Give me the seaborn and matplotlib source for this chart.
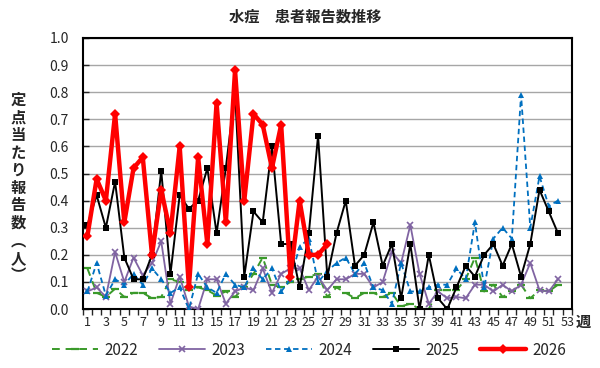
import numpy as np
import pandas as pd
import matplotlib
matplotlib.use("Agg")
import matplotlib.pyplot as plt
from matplotlib.ticker import MultipleLocator, FixedLocator
import seaborn as sns

# weekly values per year (per sentinel)
v2022 = [0.15, 0.06, 0.045, 0.075, 0.045, 0.06, 0.06, 0.04, 0.045, 0.11,
         0.10, 0.07, 0.08, 0.07, 0.05, 0.065, 0.045, 0.08, 0.13, 0.19,
         0.09, 0.08, 0.10, 0.11, 0.12, 0.13, 0.045, 0.08, 0.06, 0.04,
         0.06, 0.06, 0.045, 0.06, 0.01, 0.02, 0.0, 0.0, 0.07, 0.07,
         0.07, 0.11, 0.19, 0.065, 0.09, 0.045, 0.065, 0.09, 0.04, 0.07, 0.065, 0.09]
v2023 = [0.065, 0.08, 0.045, 0.21, 0.10, 0.19, 0.125, 0.17, 0.25, 0.02,
         0.12, 0.01, 0.0, 0.11, 0.11, 0.02, 0.065, 0.08, 0.07, 0.15,
         0.06, 0.13, 0.15, 0.15, 0.07, 0.12, 0.07, 0.11, 0.11, 0.13,
         0.13, 0.08, 0.10, 0.21, 0.17, 0.31, 0.13, 0.02, 0.065, 0.04,
         0.045, 0.04, 0.09, 0.09, 0.065, 0.09, 0.065, 0.09, 0.17, 0.07, 0.065, 0.11]
v2024 = [0.065, 0.17, 0.05, 0.11, 0.09, 0.13, 0.09, 0.15, 0.11, 0.06,
         0.08, 0.0, 0.13, 0.08, 0.06, 0.13, 0.09, 0.08, 0.15, 0.11,
         0.15, 0.065, 0.11, 0.23, 0.26, 0.10, 0.14, 0.17, 0.19, 0.13,
         0.17, 0.08, 0.07, 0.02, 0.17, 0.065, 0.065, 0.08, 0.09, 0.09,
         0.15, 0.11, 0.32, 0.08, 0.26, 0.30, 0.26, 0.79, 0.30, 0.49, 0.38, 0.40]
v2025 = [0.31, 0.42, 0.30, 0.47, 0.19, 0.11, 0.11, 0.20, 0.51, 0.13,
         0.42, 0.37, 0.40, 0.52, 0.28, 0.52, 0.80, 0.12, 0.36, 0.32,
         0.60, 0.24, 0.24, 0.08, 0.28, 0.64, 0.12, 0.28, 0.40, 0.16,
         0.20, 0.32, 0.16, 0.24, 0.04, 0.24, 0.0, 0.20, 0.04, 0.0,
         0.08, 0.16, 0.12, 0.20, 0.24, 0.16, 0.24, 0.12, 0.24, 0.44, 0.36, 0.28]
v2026 = [0.27, 0.48, 0.40, 0.72, 0.32, 0.52, 0.56, 0.20, 0.44, 0.28,
         0.60, 0.08, 0.56, 0.24, 0.76, 0.32, 0.88, 0.40, 0.72, 0.68,
         0.52, 0.68, 0.12, 0.40, 0.20, 0.20, 0.24]

week_ticks = list(range(1, 54, 2))

sns.set_style("white")
plt.rcParams['font.family'] = ['Noto Sans CJK JP', 'DejaVu Sans']

fig = plt.figure(figsize=(6, 3.68), dpi=100)
ax = fig.add_axes([0.138, 0.160, 0.815, 0.737])

styles = {
    "2022": dict(color="#3a9a2a", ls=(0, (4, 3)), lw=1.4, marker="_", ms=6, mew=1.6, zorder=2),
    "2023": dict(color="#8064a2", ls="-", lw=1.3, marker="x", ms=4, mew=1.2, zorder=3),
    "2024": dict(color="#0070c0", ls=(0, (3, 2)), lw=1.3, marker="^", ms=4.5, mew=0, zorder=4),
    "2025": dict(color="black", ls="-", lw=1.4, marker="s", ms=4.5, mew=0, zorder=5),
    "2026": dict(color="#ff0000", ls="-", lw=3.2, marker="D", ms=5, mew=0, zorder=6),
}
series = {"2022": v2022, "2023": v2023, "2024": v2024, "2025": v2025, "2026": v2026}

for year, vals in series.items():
    st = styles[year]
    df = pd.DataFrame({"week": np.arange(1, len(vals) + 1), "value": vals})
    sns.lineplot(data=df, x="week", y="value", ax=ax, color=st["color"],
                 linestyle=st["ls"], linewidth=st["lw"], marker=st["marker"],
                 markersize=st["ms"], markeredgewidth=st["mew"],
                 markeredgecolor=st["color"], zorder=st["zorder"], label=year)

ax.set_xlim(0.5, 53.5)
ax.set_ylim(0, 1.0)
ax.yaxis.set_major_locator(MultipleLocator(0.1))
ax.yaxis.set_major_formatter(matplotlib.ticker.FormatStrFormatter("%.1f"))
ax.grid(axis="y", color="#a6a6a6", lw=1)
ax.set_axisbelow(True)

ax.xaxis.set_major_locator(FixedLocator(week_ticks))
ax.set_xticklabels([str(w) for w in week_ticks])
ax.xaxis.set_minor_locator(FixedLocator(np.arange(0.5, 54, 1)))
ax.tick_params(axis="x", which="major", length=0, labelsize=9, pad=5)
ax.tick_params(axis="x", which="minor", length=4, width=1, direction="out", bottom=True)
ax.tick_params(axis="y", which="major", length=4, width=1, direction="in", left=True,
               labelsize=10, pad=10)

for sp in ax.spines.values():
    sp.set_color("black")
    sp.set_linewidth(1.5)

ax.set_xlabel("")
ax.set_ylabel("")

fig.text(0.508, 0.955, "水痘　患者報告数推移", ha="center", va="center",
         fontsize=11, fontweight="bold")
fig.text(0.03, 0.49, "\n".join("定点当たり報告数︵人︶"), ha="center", va="center",
         fontsize=11, fontweight="bold", linespacing=1.12)
fig.text(0.972, 0.125, "週", ha="center", va="center", fontsize=11, fontweight="bold")

handles, labels = ax.get_legend_handles_labels()
ax.legend_.remove()
fig.legend(handles, labels, loc="center", bbox_to_anchor=(0.515, 0.048), ncol=5,
           frameon=False, fontsize=11, handlelength=3.0, columnspacing=1.4,
           handletextpad=0.4)

fig.savefig("out.png", dpi=100)
